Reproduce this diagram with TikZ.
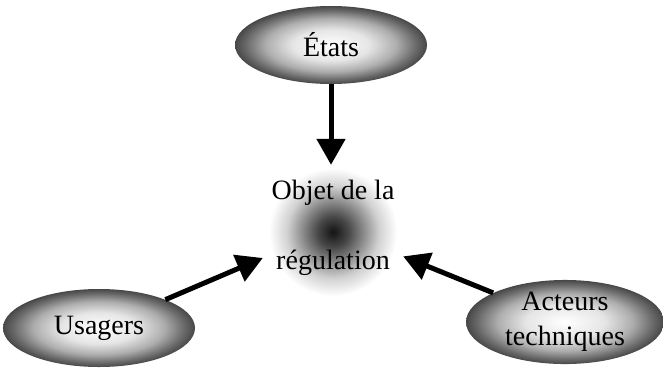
\documentclass[tikz,border=0pt]{standalone}
\usepackage{fontspec}
\setmainfont{Liberation Serif}
\usetikzlibrary{shapes.geometric,arrows.meta}
\pgfdeclareradialshading{ovalshade}{\pgfpoint{0bp}{0bp}}{color(0bp)=(white); color(10bp)=(black!10); color(17bp)=(black!32); color(22bp)=(black!58); color(25bp)=(black!72); color(50bp)=(black!72)}
\pgfdeclareradialshading{blobshade}{\pgfpoint{0bp}{0bp}}{color(0bp)=(black!92); color(6bp)=(black!72); color(12bp)=(black!45); color(18bp)=(black!18); color(25bp)=(white); color(50bp)=(white)}
\tikzset{
  oval/.style={ellipse, shading=ovalshade, inner sep=0pt, minimum width=192pt, minimum height=78pt, align=center, font=\fontsize{28}{35}\selectfont},
  bigarrow/.style={line width=5pt, -{Triangle[length=26pt,width=28pt]}},
  centertext/.style={rectangle, inner sep=0pt, minimum width=140pt, minimum height=126pt, align=center, font=\fontsize{28}{35}\selectfont}
}
\begin{document}
\begin{tikzpicture}[x=1pt,y=-1pt]
\useasboundingbox (0,0) rectangle (663,376);
\shade[shading=blobshade] (333,232) circle (64);
\node[centertext] (obj) at (333,228) {Objet de la\\[35pt]régulation};
\node[oval] (etats) at (331,45) {États};
\node[oval] (usagers) at (99,328) {Usagers};
\node[oval, minimum width=198pt, minimum height=80pt] (acteurs) at (565,322) {Acteurs\\techniques};
\draw[bigarrow] (etats.south) -- (etats.south |- obj.north);
\draw[bigarrow] (usagers) -- (obj);
\draw[bigarrow] (acteurs) -- (obj);
\end{tikzpicture}
\end{document}
